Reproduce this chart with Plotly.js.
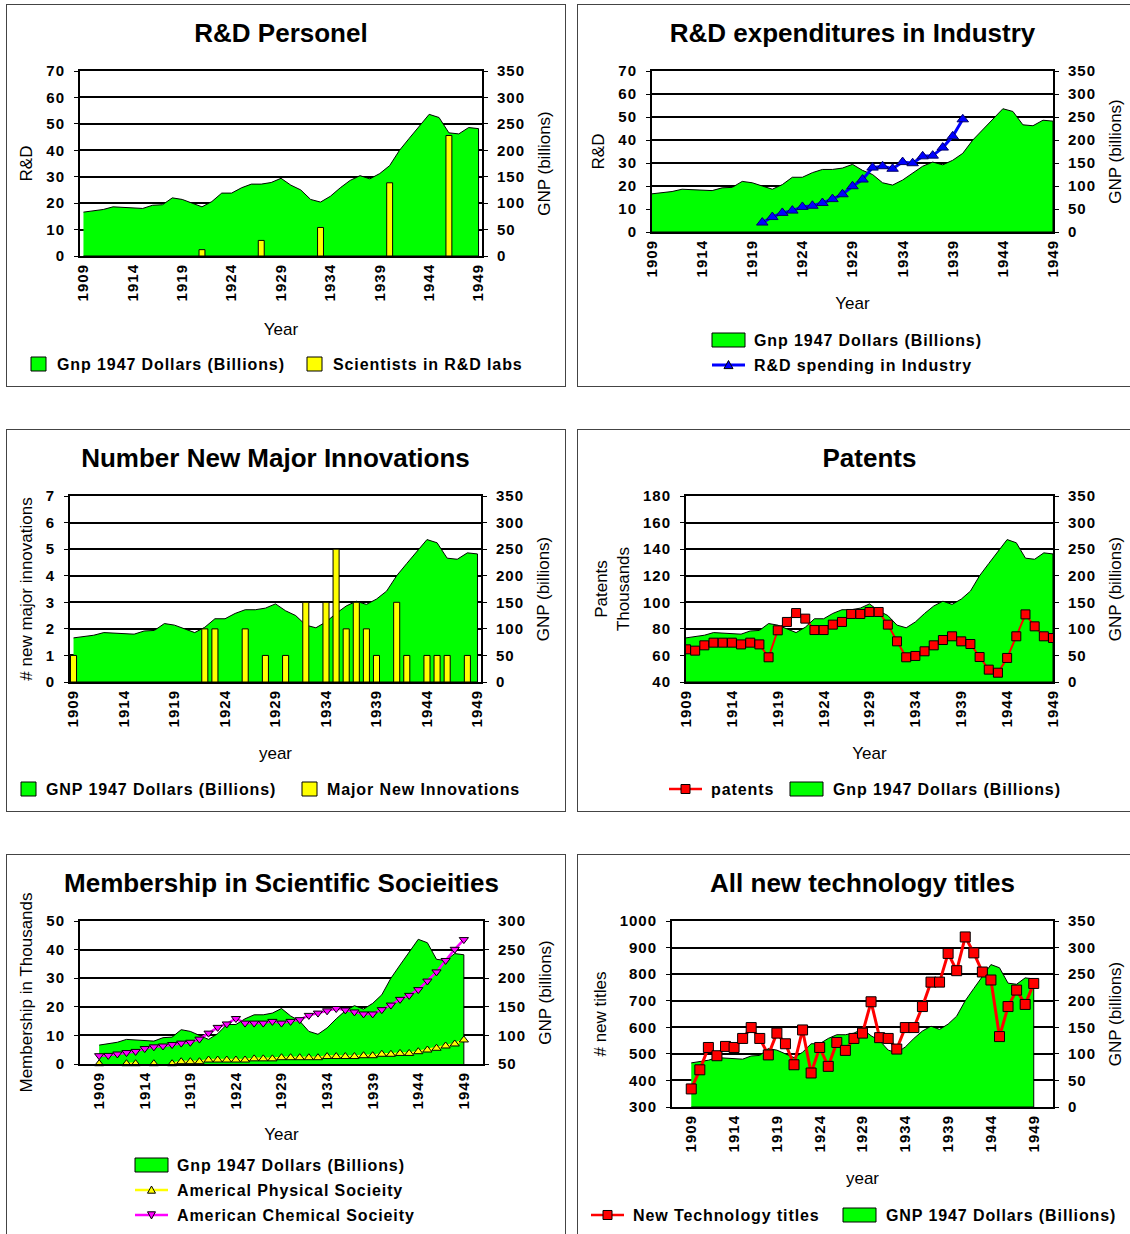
<!DOCTYPE html>
<html><head><meta charset="utf-8">
<script src="https://cdn.plot.ly/plotly-3.0.1.min.js"></script>
<style>
html,body{margin:0;padding:0;background:#fff;overflow:hidden;width:1130px;height:1234px;}
.panel{position:absolute;width:560px;height:383px;}
.frame{position:absolute;width:560px;height:383px;box-sizing:border-box;border:1px solid #444;pointer-events:none;}
.xtick text,.ytick text,.y2tick text{letter-spacing:1px;}
.annotation-text{letter-spacing:0.9px;}
</style></head><body>
<div id="p1" class="panel" style="left:6px;top:4px"></div><div class="frame" style="left:6px;top:4px"></div>
<div id="p2" class="panel" style="left:577px;top:4px"></div><div class="frame" style="left:577px;top:4px"></div>
<div id="p3" class="panel" style="left:6px;top:429px"></div><div class="frame" style="left:6px;top:429px"></div>
<div id="p4" class="panel" style="left:577px;top:429px"></div><div class="frame" style="left:577px;top:429px"></div>
<div id="p5" class="panel" style="left:6px;top:854px"></div><div class="frame" style="left:6px;top:854px"></div>
<div id="p6" class="panel" style="left:577px;top:854px"></div><div class="frame" style="left:577px;top:854px"></div>
<script>
// ---------- data ----------
const years = [1909,1910,1911,1912,1913,1914,1915,1916,1917,1918,1919,1920,1921,1922,1923,1924,1925,1926,1927,1928,1929,1930,1931,1932,1933,1934,1935,1936,1937,1938,1939,1940,1941,1942,1943,1944,1945,1946,1947,1948,1949];
const tickYears = [1909,1914,1919,1924,1929,1934,1939,1944,1949];
const gnp = [83,85,88,93,92,90,90,96,97,110,107,100,93,103,119,119,129,136,136,139,147,134,125,107,102,113,129,143,152,146,156,171,200,223,246,268,262,233,231,243,241];
const sciYears = [1921,1927,1933,1940,1946];
const scientists = [2.4,5.9,10.8,27.7,45.6];
const rdYears = [1920,1921,1922,1923,1924,1925,1926,1927,1928,1929,1930,1931,1932,1933,1934,1935,1936,1937,1938,1939,1940];
const rdSpending = [4.1,6.5,8.3,9.3,10.9,11.4,12.6,14.3,16.4,19.9,22.8,28.0,28.6,27.5,30.4,29.9,32.9,33.2,36.7,41.6,49.0];
const innovYears = [1909,1922,1923,1926,1928,1930,1932,1934,1935,1936,1937,1938,1939,1941,1942,1944,1945,1946,1948];
const innovations = [1,2,2,2,1,1,3,3,5,2,3,2,1,3,1,1,1,1,1];
const patents = [64.6,63.6,67.6,69.6,69.6,69.6,68.3,69.6,68.3,58.6,78.9,85.2,91.9,87.7,79.1,79.1,83.2,85.2,91.2,91.2,92.7,92.7,83.2,70.6,58.6,59.6,63.1,67.6,71.6,74.4,70.6,68.6,58.8,49.3,47.0,58.1,74.4,90.9,81.9,74.4,73.1];
const physSoc = [0.1,null,null,0.1,0.1,null,0.1,null,0.1,0.8,0.8,0.8,1.4,1.4,1.4,1.4,1.4,1.8,1.8,1.8,2.2,2.2,2.2,2.2,2.2,2.6,2.6,2.6,2.6,2.9,2.9,3.4,3.4,3.7,3.7,4.3,4.9,5.5,6.3,7.0,8.4];
const chemSoc = [2.9,3.0,3.5,4.0,4.4,5.4,6.0,6.3,6.8,7.3,7.6,8.7,10.8,12.8,14.0,15.9,14.3,14.3,14.3,14.9,14.3,14.9,15.5,17.0,17.8,18.6,19.4,18.9,18.2,17.5,17.5,19.0,20.6,22.6,24.0,26.0,29.0,32.2,36.2,40.1,43.5];
const techTitles = [368,440,524,493,528,524,558,599,558,496,578,538,459,590,428,524,453,543,513,558,578,696,561,558,518,599,599,678,770,770,878,813,940,880,808,778,565,678,740,686,765];

// ---------- helpers ----------
const FONT = 'Liberation Sans, Arial, Helvetica, sans-serif';
const W = 560, H = 383;
const tf = {family:FONT, size:15, weight:'bold', color:'#000'};
const af = {family:FONT, size:17, color:'#000'};

function gnpTrace(){
  return {type:'scatter', mode:'lines', x: years.concat([years[years.length-1], years[0]]),
    y: gnp.concat([0,0]), fill:'toself', fillcolor:'#00FF00', line:{color:'#000', width:1},
    xaxis:'x', yaxis:'y', hoverinfo:'skip', showlegend:false};
}

function toPaper(p, ax, ay){
  const m = p.m, pw = W - m.l - m.r, ph = H - m.t - m.b;
  return [(ax - p.ox - m.l)/pw, (H - m.b - (ay - p.oy))/ph];
}

function legendParts(p){
  const shapes = [], ann = [];
  const c = (x,y) => toPaper(p, x, y);
  p.legend.forEach(it => {
    if (it.kind === 'box'){
      const a = c(it.x0, it.y0), b = c(it.x1, it.y1);
      shapes.push({type:'rect', xref:'paper', yref:'paper', x0:a[0], x1:b[0], y0:b[1], y1:a[1],
        fillcolor:it.fill, line:{color:'#000', width:1}});
    } else {
      const a = c(it.x0, it.y), b = c(it.x1, it.y);
      shapes.push({type:'line', xref:'paper', yref:'paper', x0:a[0], y0:a[1], x1:b[0], y1:b[1],
        line:{color:it.color, width:it.w}});
      const cx = (it.x0 + it.x1)/2, cy = it.y, h = it.s/2;
      let pts;
      if (it.sym === 'up') pts = [[cx-h, cy+h*0.8],[cx+h, cy+h*0.8],[cx, cy-h]];
      else if (it.sym === 'down') pts = [[cx-h, cy-h*0.8],[cx+h, cy-h*0.8],[cx, cy+h]];
      else pts = [[cx-h, cy-h],[cx+h, cy-h],[cx+h, cy+h],[cx-h, cy+h]];
      const path = pts.map((q,i) => { const r = c(q[0], q[1]); return (i ? 'L' : 'M') + r[0].toFixed(5) + ',' + r[1].toFixed(5); }).join(' ') + ' Z';
      shapes.push({type:'path', xref:'paper', yref:'paper', path:path, fillcolor:it.mfill, line:{color:'#000', width:1}});
    }
    const t = c(it.tx, it.ty);
    ann.push({xref:'paper', yref:'paper', x:t[0], y:t[1], xanchor:'left', yanchor:'middle', showarrow:false,
      text:it.text, font:{family:FONT, size:16, weight:'bold', color:'#000'}});
  });
  return {shapes, ann};
}

function draw(p){
  const lg = legendParts(p);
  const layout = {
    width:W, height:H, margin:p.m, paper_bgcolor:'#fff', plot_bgcolor:'#fff',
    font:{family:FONT, color:'#000'}, showlegend:false, barmode:'overlay',
    title:{text:p.title, font:{family:FONT, size:26, weight:'bold', color:'#000'},
      xref:'paper', x:0.5, xanchor:'center', yref:'container', y:1 - 29/H, yanchor:'middle'},
    xaxis:{range:p.xr, tickmode:'array', tickvals:tickYears, ticktext:tickYears.map(String), tickangle:-90,
      showgrid:false, zeroline:false, showline:true, mirror:true, linecolor:'#000', linewidth:2,
      ticks:'', tickfont:tf, automargin:false, title:{text:p.xt, font:af, standoff:p.xs}},
    yaxis:{side:'right', range:p.yR, tick0:p.yR[0], dtick:50, showgrid:true, gridcolor:'#000', gridwidth:2,
      zeroline:false, showline:true, linecolor:'#000', linewidth:2, ticks:'outside', ticklen:4, tickcolor:'#000',
      tickfont:tf, ticklabelstandoff:6, automargin:false, title:{text:'GNP (billions)', font:af, standoff:14}},
    yaxis2:{overlaying:'y', side:'left', range:p.yL, tick0:p.yL[0], dtick:p.dL, showgrid:false, zeroline:false,
      showline:true, linecolor:'#000', linewidth:2, ticks:'outside', ticklen:4, tickcolor:'#000',
      tickfont:tf, ticklabelstandoff:6, automargin:false, title:{text:p.yt, font:af, standoff:9}},
    shapes:lg.shapes, annotations:lg.ann
  };
  Plotly.newPlot(p.id, [gnpTrace()].concat(p.traces), layout, {staticPlot:true, displayModeBar:false});
}

const yellowBar = (x, y) => ({type:'bar', x:x, y:y, width:0.6, marker:{color:'#FFFF00', line:{color:'#000', width:1}},
  xaxis:'x', yaxis:'y2', hoverinfo:'skip'});

// ---------- panels ----------
const panels = [
  {id:'p1', ox:6, oy:4, m:{l:74, r:84, t:67, b:131}, xr:[1908.65,1949.35], yR:[0,350], yL:[0,70], dL:10,
   title:'R&D Personel', yt:'R&D', xt:'Year', xs:23,
   traces:[yellowBar(sciYears, scientists)],
   legend:[
    {kind:'box', x0:31, y0:357, x1:46, y1:371, fill:'#00FF00', tx:55, ty:364, text:'Gnp 1947 Dollars (Billions)'},
    {kind:'box', x0:307, y0:357, x1:322, y1:371, fill:'#FFFF00', tx:331, ty:364, text:'Scientists in R&D labs'}]},
  {id:'p2', ox:577, oy:4, m:{l:75, r:84, t:67, b:155}, xr:[1909,1949], yR:[0,350], yL:[0,70], dL:10,
   title:'R&D expenditures in Industry', yt:'R&D', xt:'Year', xs:21,
   traces:[{type:'scatter', mode:'lines+markers', x:rdYears, y:rdSpending, line:{color:'#0000FF', width:3},
     marker:{symbol:'triangle-up', size:10, color:'#0000FF', line:{color:'#000066', width:1}}, xaxis:'x', yaxis:'y2'}],
   legend:[
    {kind:'box', x0:712, y0:333, x1:745, y1:347, fill:'#00FF00', tx:752, ty:340, text:'Gnp 1947 Dollars (Billions)'},
    {kind:'line', x0:712, x1:745, y:365, color:'#0000FF', w:3, sym:'up', s:9, mfill:'#0000FF', tx:752, ty:365, text:'R&D spending in Industry'}]},
  {id:'p3', ox:6, oy:429, m:{l:64, r:85, t:67, b:130}, xr:[1908.65,1949.35], yR:[0,350], yL:[0,7], dL:1,
   title:'Number New Major Innovations', yt:'# new major innovations', xt:'year', xs:21,
   traces:[yellowBar(innovYears, innovations)],
   legend:[
    {kind:'box', x0:21, y0:782, x1:36, y1:796, fill:'#00FF00', tx:44, ty:789, text:'GNP 1947 Dollars (Billions)'},
    {kind:'box', x0:302, y0:782, x1:317, y1:796, fill:'#FFFF00', tx:325, ty:789, text:'Major New Innovations'}]},
  {id:'p4', ox:577, oy:429, m:{l:109, r:84, t:67, b:130}, xr:[1909,1949], yR:[0,350], yL:[40,180], dL:20,
   title:'Patents', yt:'Patents<br>Thousands', xt:'Year', xs:21,
   traces:[{type:'scatter', mode:'lines+markers', x:years, y:patents, line:{color:'#FF0000', width:2},
     marker:{symbol:'square', size:9, color:'#FF0000', line:{color:'#000', width:1}}, xaxis:'x', yaxis:'y2'}],
   legend:[
    {kind:'line', x0:669, x1:702, y:789, color:'#FF0000', w:2.5, sym:'sq', s:9, mfill:'#FF0000', tx:709, ty:789, text:'patents'},
    {kind:'box', x0:790, y0:782, x1:823, y1:796, fill:'#00FF00', tx:831, ty:789, text:'Gnp 1947 Dollars (Billions)'}]},
  {id:'p5', ox:6, oy:854, m:{l:74, r:83, t:67, b:173}, xr:[1906.9,1951.1], yR:[50,300], yL:[0,50], dL:10,
   title:'Membership in Scientific Socieities', yt:'Membership in Thousands', xt:'Year', xs:20,
   traces:[
    {type:'scatter', mode:'lines+markers', x:years, y:physSoc, line:{color:'#FFFF00', width:2.5},
     marker:{symbol:'triangle-up', size:8, color:'#FFFF00', line:{color:'#000', width:1}}, xaxis:'x', yaxis:'y2', cliponaxis:false},
    {type:'scatter', mode:'lines+markers', x:years, y:chemSoc, line:{color:'#FF00FF', width:2.5},
     marker:{symbol:'triangle-down', size:8, color:'#FF00FF', line:{color:'#000', width:1}}, xaxis:'x', yaxis:'y2'}],
   legend:[
    {kind:'box', x0:135, y0:1158, x1:168, y1:1172, fill:'#00FF00', tx:175, ty:1165, text:'Gnp 1947 Dollars (Billions)'},
    {kind:'line', x0:135, x1:168, y:1190, color:'#FFFF00', w:2.5, sym:'up', s:8, mfill:'#FFFF00', tx:175, ty:1190, text:'Americal Physical Socieity'},
    {kind:'line', x0:135, x1:168, y:1215, color:'#FF00FF', w:2.5, sym:'down', s:8, mfill:'#FF00FF', tx:175, ty:1215, text:'American Chemical Socieity'}]},
  {id:'p6', ox:577, oy:854, m:{l:95, r:84, t:67, b:130}, xr:[1906.75,1951.25], yR:[0,350], yL:[300,1000], dL:100,
   title:'All new technology titles', yt:'# new titles', xt:'year', xs:21,
   traces:[{type:'scatter', mode:'lines+markers', x:years, y:techTitles, line:{color:'#FF0000', width:3},
     marker:{symbol:'square', size:10, color:'#FF0000', line:{color:'#000', width:1}}, xaxis:'x', yaxis:'y2'}],
   legend:[
    {kind:'line', x0:591, x1:624, y:1215, color:'#FF0000', w:2.5, sym:'sq', s:9, mfill:'#FF0000', tx:631, ty:1215, text:'New Technology titles'},
    {kind:'box', x0:843, y0:1208, x1:876, y1:1222, fill:'#00FF00', tx:884, ty:1215, text:'GNP 1947 Dollars (Billions)'}]}
];
panels.forEach(draw);
</script>
</body></html>
